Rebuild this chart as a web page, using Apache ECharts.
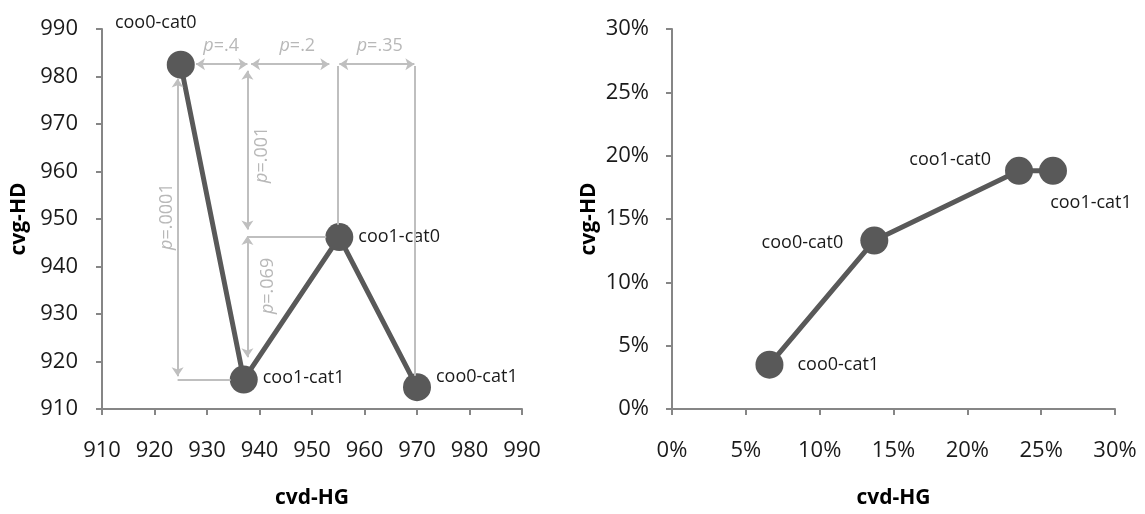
<!DOCTYPE html>
<html>
<head>
<meta charset="utf-8">
<script src="https://cdn.jsdelivr.net/npm/echarts@6/dist/echarts.min.js"></script>
<style>
  html, body { margin: 0; padding: 0; background: #ffffff; }
  #chart { width: 1145px; height: 514px; }
</style>
</head>
<body>
<div id="chart"></div>
<script>
// ---------- data ----------
const leftNames = ['coo0-cat0', 'coo1-cat1', 'coo1-cat0', 'coo0-cat1'];
const leftX = [925, 937, 955.2, 970];
const leftY = [982.5, 916.2, 946.2, 914.6];

const rightNames = ['coo0-cat1', 'coo0-cat0', 'coo1-cat0', 'coo1-cat1'];
const rightX = [6.6, 13.7, 23.5, 25.8];   // percent
const rightY = [3.5, 13.3, 18.8, 18.8];   // percent

const xTitle = 'cvd-HG';
const yTitle = 'cvg-HD';

// significance annotations (data space of the left chart)
const pTexts = ['.4', '.2', '.35', '.0001', '.001', '.069'];
const pTextX = [932.7, 947.2, 962.9, 922.4, 940.5, 941.5];
const pTextY = [986.4, 986.4, 986.4, 950.5, 963.5, 935.9];
const pTextVertical = [false, false, false, true, true, true];

// double-headed arrows: [x1, y1, x2, y2]
const arrowSegs = [
  [927.9, 982.6, 937.7, 982.6],
  [938.4, 982.6, 953.3, 982.6],
  [955.2, 982.6, 969.5, 982.6],
  [924.4, 979.6, 924.4, 916.9],
  [937.7, 981.2, 937.7, 947.8],
  [937.7, 946.4, 937.7, 920.9]
];
// plain connector lines: [x1, y1, x2, y2]
const plainSegs = [
  [924.4, 916.2, 934.5, 916.2],
  [937.7, 946.2, 952.7, 946.2],
  [954.9, 982.2, 954.9, 948.8],
  [969.5, 982.2, 969.5, 917.0]
];

// ---------- styles ----------
const FONT = '"Open Sans", "DejaVu Sans", sans-serif';
const DARK = '#595959';
const ANN = '#bfbfbf';
const ANN_TEXT = '#a6a6a6';
const AXIS = '#868686';
const TXT = '#1a1a1a';

const leftLabelPlace = {
  'coo0-cat0': { position: 'top', offset: [-25, -14] },
  'coo1-cat1': { position: 'right', offset: [0, -2] },
  'coo1-cat0': { position: 'right', offset: [0, 0] },
  'coo0-cat1': { position: 'right', offset: [0, -10] }
};
const rightLabelPlace = {
  'coo0-cat1': { position: 'right', offset: [9, 0] },
  'coo0-cat0': { position: 'left', offset: [-12, 2] },
  'coo1-cat0': { position: 'left', offset: [-9, -11] },
  'coo1-cat1': { position: 'bottom', offset: [38, 4] }
};

function pts(names, xs, ys, place) {
  return names.map((n, i) => ({
    name: n,
    value: [xs[i], ys[i]],
    label: Object.assign({ show: true, formatter: n }, place[n])
  }));
}

function axisCommon(extra) {
  return Object.assign({
    type: 'value',
    splitLine: { show: false },
    axisLine: { show: true, lineStyle: { color: AXIS, width: 2 } },
    axisTick: { show: true, inside: false, length: 6, lineStyle: { color: AXIS, width: 2 } },
    nameTextStyle: { color: '#000', fontFamily: FONT, fontSize: 21, fontWeight: 'bold' }
  }, extra);
}

const markLineData = [];
arrowSegs.forEach(s => {
  markLineData.push([{ coord: [s[0], s[1]], symbol: 'arrow' }, { coord: [s[2], s[3]], symbol: 'arrow' }]);
});
plainSegs.forEach(s => {
  markLineData.push([{ coord: [s[0], s[1]], symbol: 'none' }, { coord: [s[2], s[3]], symbol: 'none' }]);
});

const pLabelData = pTexts.map((t, i) => ({
  value: [pTextX[i], pTextY[i]],
  label: { rotate: pTextVertical[i] ? 90 : 0, formatter: '{i|p}{n|=' + t + '}' }
}));

const pointLabelStyle = { color: TXT, fontFamily: FONT, fontSize: 18, distance: 5 };
const tickFont = { color: TXT, fontFamily: FONT, fontSize: 22 };

const option = {
  backgroundColor: '#ffffff',
  animation: false,
  grid: [
    { left: 102, top: 29, width: 420, height: 381 },
    { left: 672, top: 29, width: 443, height: 381 }
  ],
  xAxis: [
    axisCommon({
      gridIndex: 0, min: 910, max: 990, interval: 10,
      name: xTitle, nameLocation: 'middle', nameGap: 79,
      axisLabel: Object.assign({ margin: 31 }, tickFont)
    }),
    axisCommon({
      gridIndex: 1, min: 0, max: 30, interval: 5,
      name: xTitle, nameLocation: 'middle', nameGap: 79,
      axisLabel: Object.assign({ margin: 31, formatter: '{value}%' }, tickFont)
    })
  ],
  yAxis: [
    axisCommon({
      gridIndex: 0, min: 910, max: 990, interval: 10,
      name: yTitle, nameLocation: 'middle', nameGap: 72,
      axisLabel: Object.assign({ margin: 24 }, tickFont)
    }),
    axisCommon({
      gridIndex: 1, min: 0, max: 30, interval: 5,
      name: yTitle, nameLocation: 'middle', nameGap: 72,
      axisLabel: Object.assign({ margin: 23, formatter: '{value}%' }, tickFont)
    })
  ],
  series: [
    {
      type: 'line', xAxisIndex: 0, yAxisIndex: 0, z: 1,
      data: [], symbol: 'none', silent: true,
      markLine: {
        silent: true, animation: false,
        symbolSize: [9, 9],
        label: { show: false },
        lineStyle: { color: ANN, width: 2, type: 'solid' },
        emphasis: { disabled: true },
        data: markLineData
      }
    },
    {
      type: 'scatter', xAxisIndex: 0, yAxisIndex: 0, z: 1,
      symbolSize: 0, silent: true,
      label: {
        show: true, position: 'inside', align: 'center', verticalAlign: 'middle',
        rich: {
          i: { color: ANN_TEXT, fontFamily: FONT, fontSize: 18, fontStyle: 'italic' },
          n: { color: ANN_TEXT, fontFamily: FONT, fontSize: 18 }
        }
      },
      data: pLabelData
    },
    {
      type: 'line', xAxisIndex: 0, yAxisIndex: 0, z: 3,
      data: pts(leftNames, leftX, leftY, leftLabelPlace),
      symbol: 'circle', symbolSize: 28,
      itemStyle: { color: DARK },
      lineStyle: { color: DARK, width: 5 },
      label: pointLabelStyle
    },
    {
      type: 'line', xAxisIndex: 1, yAxisIndex: 1, z: 3,
      data: pts(rightNames, rightX, rightY, rightLabelPlace),
      symbol: 'circle', symbolSize: 28,
      itemStyle: { color: DARK },
      lineStyle: { color: DARK, width: 5 },
      label: pointLabelStyle
    }
  ]
};

const chart = echarts.init(document.getElementById('chart'), null, { renderer: 'canvas' });
chart.setOption(option);
</script>
</body>
</html>
